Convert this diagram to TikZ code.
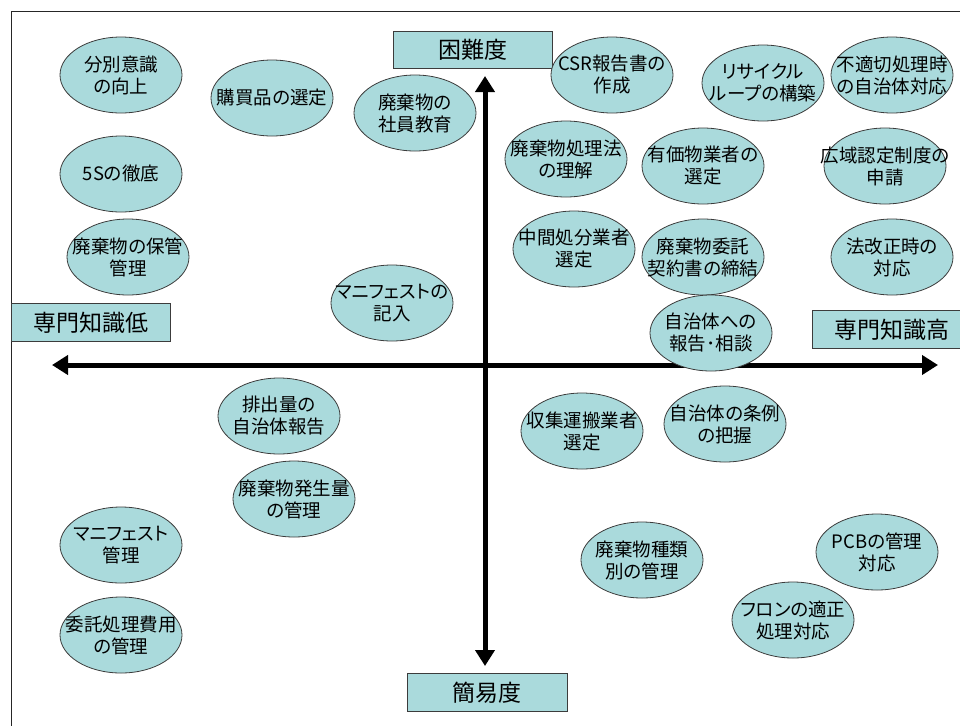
\documentclass[tikz,border=0pt]{standalone}
\usepackage{fontspec}
\setmainfont[RawFeature=+palt]{Noto Sans CJK JP}
\usetikzlibrary{arrows.meta,shapes.geometric}
\definecolor{blobfill}{RGB}{170,218,220}
\definecolor{edgegray}{RGB}{60,60,60}
\tikzset{
  blob/.style={ellipse, draw=edgegray, line width=0.8pt, fill=blobfill,
    minimum width=122pt, minimum height=76pt, inner sep=0pt},
  lbl/.style={align=center, inner sep=0pt, font=\fontsize{18.5}{22}\selectfont},
  axbox/.style={rectangle, draw=edgegray, line width=0.8pt, fill=blobfill,
    anchor=north west, inner sep=0pt, font=\fontsize{23}{27}\selectfont},
  axarrow/.style={line width=5pt, black, -{Triangle[length=16pt,width=19pt]}},
  frameline/.style={line width=1pt, black!85}
}
\begin{document}
\begin{tikzpicture}[x=1pt,y=-1pt]
\useasboundingbox (0,0) rectangle (960,726);
% frame
\coordinate (fTL) at (11,11);
\coordinate (fTR) at (960,11);
\coordinate (fBL) at (11,726);
\draw[frameline] (fTR) -- (fTL) -- (fBL);
% axes
\coordinate (axL) at (52,365);
\coordinate (axR) at (938,365);
\coordinate (axT) at (485,76);
\coordinate (axB) at (485,666);
\coordinate (axC) at (485,365);
\draw[axarrow] (axC) -- (axL);
\draw[axarrow] (axC) -- (axR);
\draw[axarrow] (axC) -- (axT);
\draw[axarrow] (axC) -- (axB);
% axis labels
\node[axbox, minimum width=159pt, minimum height=37pt] (hard) at (393,31) {困難度};
\node[axbox, minimum width=160pt, minimum height=38pt] (easy) at (407,673) {簡易度};
\node[axbox, minimum width=159pt, minimum height=38pt] (low) at (11,303) {専門知識低};
\node[axbox, minimum width=160pt, minimum height=38pt] (high) at (812,310) {専門知識高};
% ellipses
\node[blob, label={[lbl]center:分別意識\\の向上}] (e1) at (121,75) {};
\node[blob, label={[lbl]center:購買品の選定}] (e2) at (272,98) {};
\node[blob, label={[lbl]center:廃棄物の\\社員教育}] (e3) at (415,113) {};
\node[blob, label={[lbl]center:5Sの徹底}] (e4) at (121,174) {};
\node[blob, label={[lbl]center:廃棄物の保管\\管理}] (e5) at (128,257) {};
\node[blob, label={[lbl]center:マニフェストの\\記入}] (e6) at (392,303) {};
\node[blob, label={[lbl]center:CSR報告書の\\作成}] (e7) at (612,75) {};
\node[blob, label={[lbl]center:リサイクル\\ループの構築}] (e8) at (763,83) {};
\node[blob, label={[lbl]center:不適切処理時\\の自治体対応}] (e9) at (892,75) {};
\node[blob, label={[lbl]center:廃棄物処理法\\の理解}] (e10) at (566,159) {};
\node[blob, label={[lbl]center:有価物業者の\\選定}] (e11) at (703,166) {};
\node[blob, label={[lbl]center:広域認定制度の\\申請}] (e12) at (885,166) {};
\node[blob, label={[lbl]center:中間処分業者\\選定}] (e13) at (574,249) {};
\node[blob, label={[lbl]center:廃棄物委託\\契約書の締結}] (e14) at (703,257) {};
\node[blob, label={[lbl]center:法改正時の\\対応}] (e15) at (892,257) {};
\node[blob, label={[lbl]center:自治体への\\報告･相談}] (e16) at (711,333) {};
\node[blob, label={[lbl]center:排出量の\\自治体報告}] (e17) at (279,416) {};
\node[blob, label={[lbl]center:廃棄物発生量\\の管理}] (e18) at (294,499) {};
\node[blob, label={[lbl]center:マニフェスト\\管理}] (e19) at (121,545) {};
\node[blob, label={[lbl]center:委託処理費用\\の管理}] (e20) at (121,635) {};
\node[blob, label={[lbl]center:収集運搬業者\\選定}] (e21) at (582,431) {};
\node[blob, label={[lbl]center:自治体の条例\\の把握}] (e22) at (725,424) {};
\node[blob, label={[lbl]center:廃棄物種類\\別の管理}] (e23) at (642,560) {};
\node[blob, label={[lbl]center:PCBの管理\\対応}] (e24) at (877,552) {};
\node[blob, label={[lbl]center:フロンの適正\\処理対応}] (e25) at (793,620) {};
\end{tikzpicture}
\end{document}
